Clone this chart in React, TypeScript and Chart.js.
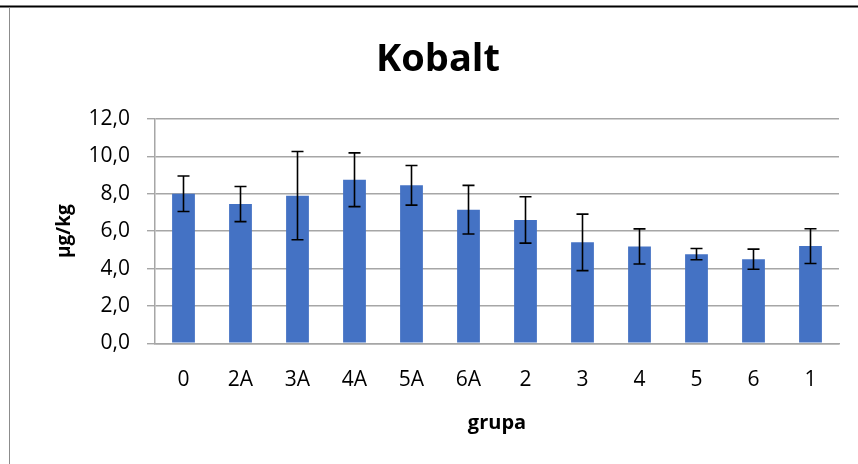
import React, { useEffect, useRef } from "react";
import { Chart, registerables } from "chart.js";

Chart.register(...registerables);

const categories = ["0", "2A", "3A", "4A", "5A", "6A", "2", "3", "4", "5", "6", "1"];
const means = [8.0, 7.45, 7.9, 8.75, 8.45, 7.15, 6.6, 5.4, 5.18, 4.77, 4.5, 5.2];
const errors = [0.95, 0.94, 2.36, 1.44, 1.06, 1.3, 1.24, 1.51, 0.94, 0.3, 0.54, 0.93];

const FONT = "'Open Sans', 'Noto Sans', sans-serif";

const errorBarPlugin = {
  id: "errorBars",
  afterDatasetsDraw(chart: any) {
    const ctx = chart.ctx;
    const meta = chart.getDatasetMeta(0);
    const y = chart.scales.y;
    ctx.save();
    ctx.strokeStyle = "#000000";
    ctx.lineWidth = 1.6;
    meta.data.forEach((bar: any, i: number) => {
      const x = bar.x;
      const top = y.getPixelForValue(means[i] + errors[i]);
      const bot = y.getPixelForValue(means[i] - errors[i]);
      const cap = 6;
      ctx.beginPath();
      ctx.moveTo(x, top);
      ctx.lineTo(x, bot);
      ctx.moveTo(x - cap, top);
      ctx.lineTo(x + cap, top);
      ctx.moveTo(x - cap, bot);
      ctx.lineTo(x + cap, bot);
      ctx.stroke();
    });
    ctx.restore();
  },
};

const framePlugin = {
  id: "frame",
  afterDraw(chart: any) {
    const ctx = chart.ctx;
    ctx.save();
    ctx.strokeStyle = "#000000";
    ctx.lineWidth = 2;
    ctx.beginPath();
    ctx.moveTo(0, 6.5);
    ctx.lineTo(chart.width, 6.5);
    ctx.stroke();
    ctx.strokeStyle = "#8c8c8c";
    ctx.lineWidth = 1;
    ctx.beginPath();
    ctx.moveTo(9.5, 7);
    ctx.lineTo(9.5, chart.height);
    ctx.stroke();
    ctx.restore();
  },
};

export default function App() {
  const ref = useRef<HTMLCanvasElement | null>(null);

  useEffect(() => {
    if (!ref.current) return;
    const chart = new Chart(ref.current, {
      type: "bar",
      data: {
        labels: categories,
        datasets: [
          {
            data: means,
            backgroundColor: "#4472C4",
            categoryPercentage: 1,
            barPercentage: 0.4,
          },
        ],
      },
      options: {
        animation: false,
        responsive: false,
        maintainAspectRatio: false,
        layout: { padding: { left: 37, right: 19, top: 0, bottom: 0 } },
        plugins: {
          legend: { display: false },
          tooltip: { enabled: false },
          title: {
            display: true,
            text: "Kobalt",
            color: "#000000",
            font: { family: FONT, size: 38, weight: "bold", lineHeight: 1.2 },
            padding: { top: 37, bottom: 36.4 },
          },
        },
        scales: {
          x: {
            grid: { display: false, drawTicks: false },
            border: { display: true, color: "#a6a6a6", width: 1.5 },
            ticks: {
              color: "#000000",
              font: { family: FONT, size: 21 },
              padding: 24,
              maxRotation: 0,
            },
            title: {
              display: true,
              text: "grupa",
              color: "#000000",
              font: { family: FONT, size: 20, weight: "bold", lineHeight: 1.2 },
              padding: { top: 29, bottom: 29 },
            },
            afterFit(scale: any) {
              scale.height = 120.7;
            },
          },
          y: {
            min: 0,
            max: 12,
            ticks: {
              stepSize: 2,
              color: "#000000",
              font: { family: FONT, size: 21 },
              padding: 17,
              callback: (v: any) => Number(v).toFixed(1).replace(".", ","),
            },
            grid: { color: "#a6a6a6", lineWidth: 1.4, tickLength: 8 },
            border: { display: true, color: "#a6a6a6", width: 1.5 },
            title: {
              display: true,
              text: "µg/kg",
              color: "#000000",
              font: { family: FONT, size: 19, weight: "bold", lineHeight: 1.2 },
              padding: 16,
            },
            afterFit(scale: any) {
              scale.width = 118;
            },
          },
        },
      },
      plugins: [errorBarPlugin, framePlugin],
    });
    return () => chart.destroy();
  }, []);

  return (
    <div style={{ position: "absolute", left: 0, top: 0, width: 858, height: 464, background: "#ffffff" }}>
      <canvas ref={ref} width={858} height={464} style={{ width: 858, height: 464 }} />
    </div>
  );
}
